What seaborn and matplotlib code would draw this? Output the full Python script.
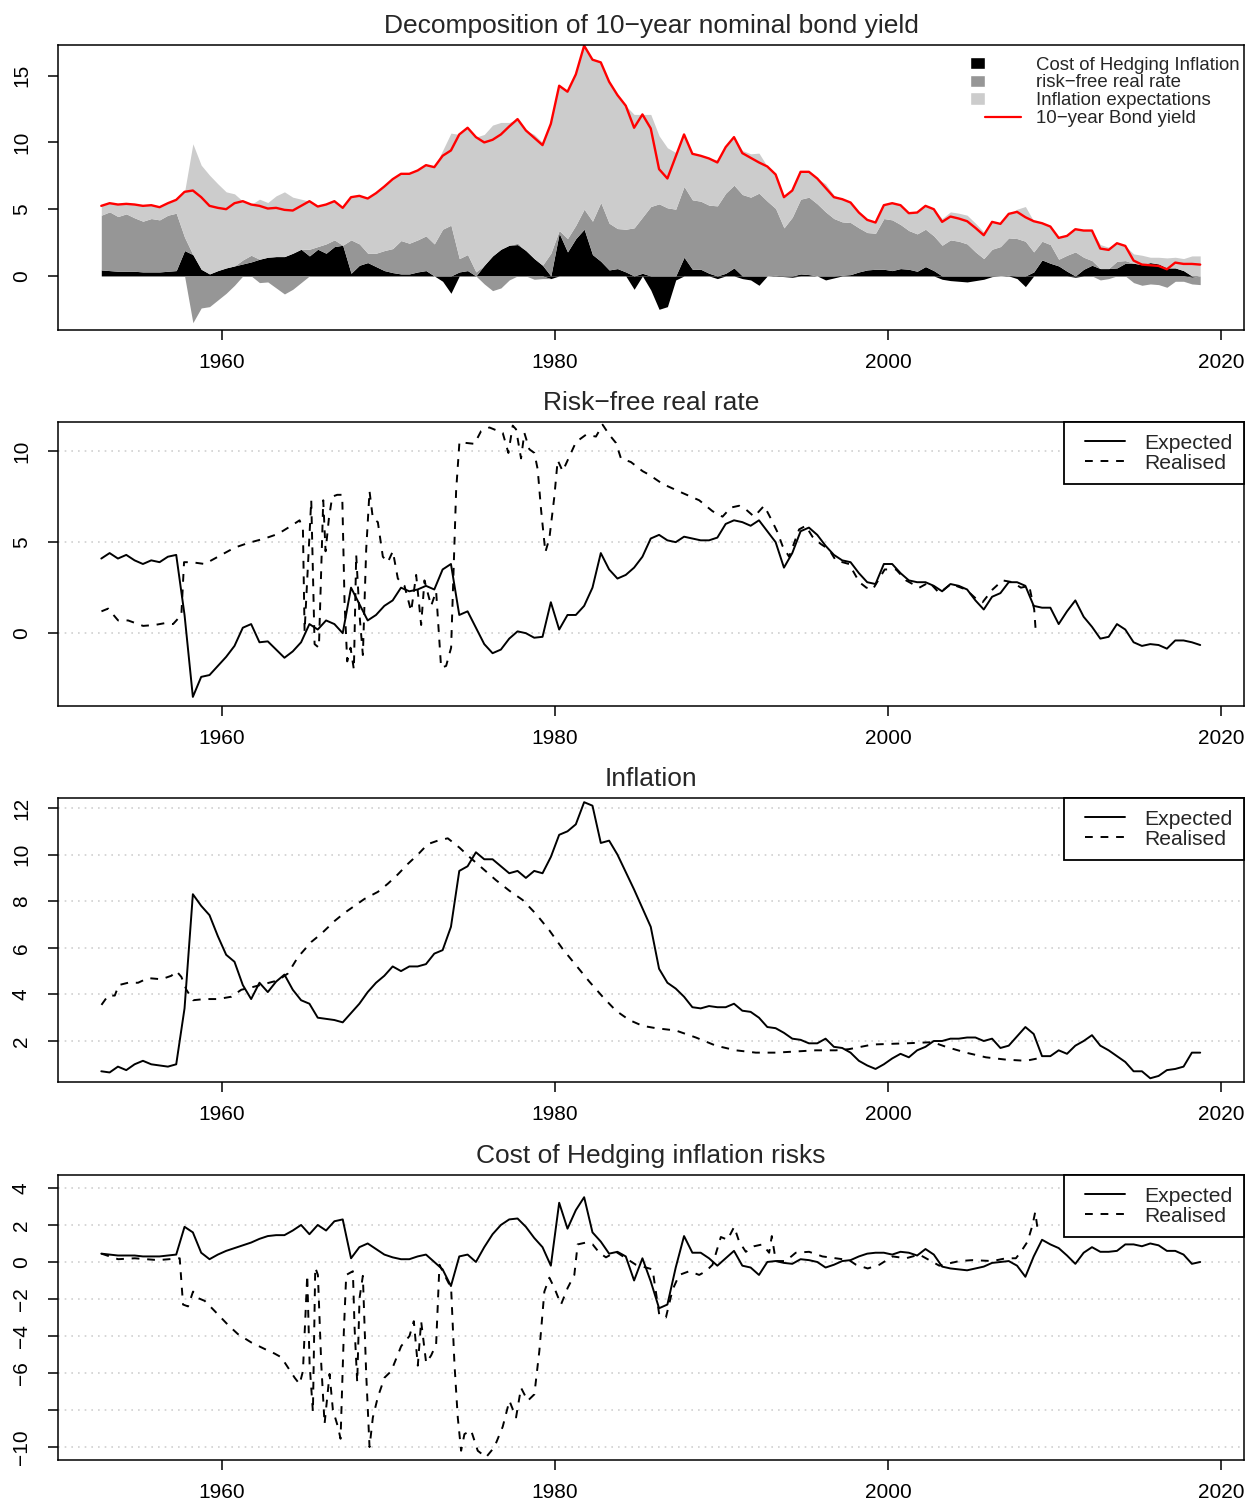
import numpy as np
import pandas as pd
import matplotlib
matplotlib.use("Agg")
import matplotlib.pyplot as plt
import seaborn as sns
from matplotlib.patches import Patch, Rectangle
from matplotlib.lines import Line2D
from matplotlib.legend_handler import HandlerPatch, HandlerLine2D

sns.set_theme(style="white")
plt.rcParams['font.family'] = ['Liberation Sans', 'DejaVu Sans']
plt.rcParams['lines.dashed_pattern'] = [4, 4]

# ---- expected components, half-yearly from 1952.75 to 2018.75 ----
years = np.arange(1952.75, 2019.0, 0.5)

real_exp = [4.1, 4.4, 4.1, 4.3, 4.0, 3.8, 4.0, 3.9, 4.2, 4.3,
            1.0, -3.5, -2.4, -2.3, -1.8, -1.3, -0.7, 0.3, 0.5, -0.5,
            -0.45, -0.9, -1.35, -1.0, -0.5, 0.5, 0.2, 0.7, 0.5, 0.0,
            2.5, 1.6, 0.7, 1.0, 1.5, 1.8, 2.5, 2.3, 2.4, 2.6,
            2.4, 3.5, 3.8, 1.0, 1.2, 0.3, -0.6, -1.1, -0.9, -0.3,
            0.1, 0.0, -0.25, -0.2, 1.7, 0.2, 1.0, 1.0, 1.5, 2.5,
            4.4, 3.5, 3.0, 3.2, 3.6, 4.2, 5.2, 5.4, 5.1, 5.0,
            5.3, 5.2, 5.1, 5.1, 5.25, 6.0, 6.2, 6.1, 5.9, 6.2,
            5.6, 5.0, 3.6, 4.4, 5.6, 5.8, 5.4, 4.8, 4.3, 4.0,
            3.9, 3.3, 2.8, 2.7, 3.8, 3.8, 3.3, 2.9, 2.8, 2.8,
            2.6, 2.3, 2.7, 2.6, 2.4, 1.8, 1.3, 2.0, 2.2, 2.8,
            2.8, 2.6, 1.5, 1.4, 1.4, 0.5, 1.2, 1.8, 0.9, 0.35,
            -0.3, -0.2, 0.5, 0.2, -0.5, -0.7, -0.6, -0.65, -0.85, -0.4,
            -0.4, -0.5, -0.65]

infl_exp = [0.7, 0.65, 0.9, 0.75, 1.0, 1.15, 1.0, 0.95, 0.9, 1.0,
            3.4, 8.3, 7.8, 7.4, 6.5, 5.7, 5.4, 4.4, 3.8, 4.5,
            4.1, 4.55, 4.85, 4.2, 3.75, 3.6, 3.0, 2.95, 2.9, 2.8,
            3.2, 3.6, 4.1, 4.5, 4.8, 5.2, 5.0, 5.2, 5.2, 5.3,
            5.75, 5.9, 6.9, 9.3, 9.5, 10.1, 9.8, 9.8, 9.5, 9.2,
            9.3, 9.0, 9.3, 9.2, 9.9, 10.85, 11.0, 11.3, 12.25, 12.1,
            10.5, 10.6, 10.0, 9.25, 8.5, 7.7, 6.9, 5.1, 4.5, 4.25,
            3.9, 3.45, 3.4, 3.5, 3.45, 3.45, 3.6, 3.3, 3.25, 3.0,
            2.6, 2.55, 2.35, 2.1, 2.05, 1.9, 1.9, 2.1, 1.75, 1.7,
            1.5, 1.15, 0.95, 0.8, 1.0, 1.25, 1.45, 1.3, 1.6, 1.75,
            2.0, 2.0, 2.1, 2.1, 2.15, 2.15, 2.0, 2.1, 1.7, 1.8,
            2.2, 2.6, 2.3, 1.35, 1.35, 1.6, 1.45, 1.8, 2.0, 2.25,
            1.8, 1.6, 1.35, 1.1, 0.7, 0.7, 0.4, 0.5, 0.75, 0.8,
            0.9, 1.5, 1.5]

hedge_exp = [0.45, 0.4, 0.35, 0.35, 0.35, 0.3, 0.3, 0.3, 0.35, 0.4,
             1.9, 1.6, 0.5, 0.15, 0.4, 0.6, 0.75, 0.9, 1.05, 1.25,
             1.4, 1.45, 1.45, 1.7, 2.0, 1.5, 2.0, 1.7, 2.2, 2.3,
             0.2, 0.8, 1.0, 0.7, 0.4, 0.25, 0.15, 0.15, 0.3, 0.4,
             0.0, -0.4, -1.3, 0.3, 0.4, 0.0, 0.8, 1.5, 2.0, 2.3,
             2.35, 1.9, 1.3, 0.8, -0.2, 3.2, 1.8, 2.8, 3.5, 1.6,
             1.1, 0.45, 0.55, 0.3, -1.0, 0.2, -1.05, -2.5, -2.3, -0.3,
             1.4, 0.5, 0.5, 0.2, -0.2, 0.2, 0.6, -0.2, -0.3, -0.7,
             0.0, 0.05, -0.05, -0.1, 0.15, 0.1, 0.0, -0.3, -0.15, 0.05,
             0.1, 0.3, 0.45, 0.5, 0.5, 0.4, 0.55, 0.5, 0.35, 0.7,
             0.4, -0.25, -0.35, -0.4, -0.45, -0.35, -0.25, -0.05, 0.0, 0.05,
             -0.2, -0.8, 0.3, 1.2, 0.95, 0.75, 0.35, -0.1, 0.5, 0.8,
             0.55, 0.55, 0.6, 0.95, 0.95, 0.85, 1.0, 0.9, 0.6, 0.6,
             0.4, -0.1, 0.0]

# ---- realised series (read at irregular dates) ----
real_rl_yr = [1952.76, 1953.16, 1953.76, 1954.36, 1955.26, 1955.96, 1956.56, 1957.06, 1957.56, 1957.72,
              1958.16, 1958.96, 1959.96, 1960.76, 1961.56, 1962.56, 1963.36, 1964.16, 1964.66, 1964.86,
              1964.96, 1965.36, 1965.56, 1965.82, 1966.08, 1966.22, 1966.42, 1966.62, 1966.92, 1967.22,
              1967.36, 1967.52, 1967.72, 1967.92, 1968.06, 1968.26, 1968.46, 1968.66, 1968.86, 1969.06,
              1969.36, 1969.66, 1969.96, 1970.26, 1970.56, 1970.96, 1971.36, 1971.66, 1971.96, 1972.16,
              1972.56, 1972.86, 1973.16, 1973.46, 1973.76, 1974.06, 1974.26, 1974.66, 1975.16, 1975.56,
              1976.06, 1976.86, 1977.2, 1977.46, 1977.66, 1977.96, 1978.16, 1978.46, 1978.76, 1978.96,
              1979.16, 1979.42, 1979.66, 1979.96, 1980.16, 1980.46, 1980.86, 1981.26, 1981.86, 1982.46,
              1982.86, 1983.26, 1983.66, 1983.96, 1984.56, 1985.26, 1985.66, 1986.46, 1987.66, 1988.66,
              1989.46, 1990.06, 1990.56, 1991.06, 1991.46, 1991.96, 1992.56, 1992.96, 1993.36, 1993.66,
              1994.06, 1994.66, 1995.06, 1995.46, 1995.96, 1996.46, 1996.86, 1997.66, 1998.28, 1998.7,
              1999.08, 1999.8, 2000.48, 2001.08, 2001.88, 2002.48, 2003.08, 2003.78, 2004.68, 2005.28,
              2005.68, 2006.28, 2006.88, 2007.48, 2007.98, 2008.48, 2008.78, 2008.88]
real_rl = [1.2, 1.35, 0.7, 0.7, 0.4, 0.45, 0.55, 0.5, 1.0, 3.9,
           3.9, 3.8, 4.3, 4.7, 4.95, 5.2, 5.45, 5.9, 6.2, 5.7,
           0.1, 7.3, -0.6, -0.8, 7.3, 4.5, 6.3, 7.5, 7.6, 7.6,
           1.7, -1.55, -0.8, -2.0, 4.3, 1.0, -1.2, 4.6, 7.8, 6.3,
           6.1, 4.2, 3.9, 4.5, 3.0, 2.6, 1.2, 3.2, 0.45, 2.9,
           1.5, 2.3, -1.9, -1.8, -0.8, 7.8, 10.5, 10.45, 10.4, 11.1,
           11.3, 11.0, 9.9, 11.4, 11.2, 9.6, 11.0, 10.1, 9.9, 9.0,
           6.8, 4.45, 5.2, 7.5, 9.5, 8.9, 9.7, 10.5, 10.9, 10.8,
           11.45, 10.9, 10.45, 9.6, 9.4, 8.9, 8.7, 8.2, 7.7, 7.3,
           6.7, 6.4, 6.9, 7.0, 6.8, 6.4, 7.0, 6.3, 5.55, 4.8,
           4.2, 5.7, 5.9, 5.3, 4.9, 4.6, 4.0, 3.8, 2.8, 2.5,
           2.4, 3.5, 3.5, 2.9, 2.5, 2.8, 2.2, 2.7, 2.4, 1.9,
           1.7, 2.4, 2.9, 2.8, 2.5, 2.6, 1.3, 0.0]

infl_rl_yr = [1952.76, 1953.16, 1953.56, 1953.8, 1954.36, 1954.96, 1955.56, 1956.36, 1956.96, 1957.26,
              1957.56, 1957.86, 1958.26, 1958.96, 1959.76, 1960.56, 1961.16, 1961.76, 1962.56, 1963.36,
              1963.96, 1964.56, 1965.36, 1965.96, 1966.76, 1967.36, 1967.96, 1968.56, 1969.36, 1969.96,
              1970.56, 1971.16, 1971.76, 1972.36, 1972.96, 1973.56, 1974.26, 1974.86, 1975.66, 1976.46,
              1977.26, 1978.06, 1978.86, 1979.66, 1980.46, 1981.26, 1982.06, 1982.86, 1983.66, 1984.46,
              1985.26, 1986.06, 1987.26, 1988.46, 1989.66, 1990.86, 1992.06, 1993.26, 1994.46, 1995.66,
              1996.86, 1997.66, 1999.08, 2001.08, 2002.68, 2003.48, 2004.68, 2005.88, 2007.08, 2008.28,
              2008.98]
infl_rl = [3.55, 3.95, 3.95, 4.4, 4.5, 4.5, 4.7, 4.65, 4.8, 5.0,
           4.75, 4.2, 3.75, 3.8, 3.8, 3.9, 4.2, 4.3, 4.45, 4.6,
           4.9, 5.6, 6.25, 6.6, 7.15, 7.5, 7.8, 8.1, 8.4, 8.75,
           9.15, 9.6, 10.0, 10.45, 10.6, 10.7, 10.3, 9.9, 9.4, 8.9,
           8.45, 8.05, 7.45, 6.75, 5.95, 5.25, 4.55, 3.9, 3.3, 2.9,
           2.65, 2.55, 2.45, 2.15, 1.8, 1.6, 1.5, 1.5, 1.55, 1.6,
           1.6, 1.65, 1.85, 1.9, 1.95, 1.75, 1.5, 1.3, 1.2, 1.15,
           1.25]

hedge_rl_yr = [1952.76, 1953.76, 1954.76, 1956.16, 1957.46, 1957.66, 1957.96, 1958.26, 1958.56, 1958.96,
               1959.56, 1960.36, 1960.96, 1961.76, 1962.56, 1963.16, 1963.56, 1963.96, 1964.36, 1964.66,
               1964.86, 1965.12, 1965.26, 1965.46, 1965.6, 1965.76, 1965.96, 1966.16, 1966.46, 1966.66,
               1966.96, 1967.12, 1967.32, 1967.46, 1967.86, 1967.96, 1968.12, 1968.26, 1968.46, 1968.66,
               1968.86, 1969.06, 1969.36, 1969.76, 1970.16, 1970.76, 1971.26, 1971.52, 1971.76, 1971.96,
               1972.26, 1972.56, 1972.86, 1973.06, 1973.36, 1973.76, 1973.96, 1974.16, 1974.36, 1974.56,
               1974.96, 1975.36, 1975.86, 1976.36, 1976.86, 1977.26, 1977.66, 1977.96, 1978.36, 1978.76,
               1979.06, 1979.36, 1979.66, 1979.96, 1980.36, 1980.76, 1981.16, 1981.36, 1981.86, 1982.26,
               1982.66, 1983.06, 1983.66, 1984.26, 1984.86, 1985.46, 1985.86, 1986.26, 1986.66, 1987.06,
               1987.46, 1988.06, 1988.66, 1989.06, 1989.46, 1989.96, 1990.36, 1990.76, 1991.06, 1991.46,
               1991.96, 1992.46, 1992.86, 1993.02, 1993.26, 1993.86, 1994.46, 1995.26, 1996.06, 1996.86,
               1997.66, 1998.08, 1998.78, 1999.48, 2000.28, 2001.08, 2001.88, 2003.08, 2004.28, 2005.08,
               2006.28, 2007.08, 2007.68, 2007.98, 2008.38, 2008.68, 2008.84, 2008.98]
hedge_rl = [0.45, 0.15, 0.2, 0.1, 0.2, -2.3, -2.4, -1.6, -1.95, -2.1,
            -2.65, -3.4, -3.9, -4.35, -4.7, -4.95, -5.15, -5.7, -6.25, -6.6,
            -5.9, -0.7, -5.5, -8.1, -0.3, -0.7, -5.5, -8.75, -6.05, -8.0,
            -8.9, -9.55, -3.7, -0.7, -0.5, -3.5, -6.5, -1.95, -0.75, -6.05,
            -10.0, -8.4, -7.3, -6.25, -5.9, -4.55, -4.0, -3.2, -5.6, -3.2,
            -5.45, -5.05, -4.45, -0.15, -0.7, -1.4, -5.5, -8.4, -10.2, -9.3,
            -9.1, -10.2, -10.55, -10.0, -8.9, -7.5, -8.4, -6.8, -7.5, -7.15,
            -4.8, -1.6, -0.85, -1.4, -2.3, -1.4, -0.7, 0.95, 1.05, 0.95,
            0.5, 0.25, 0.55, 0.2, -0.15, -0.3, -0.4, -2.85, -3.0, -1.5,
            -0.7, -0.5, -0.7, -0.5, -0.15, 1.35, 1.2, 1.9, 1.1, 0.55,
            0.85, 0.95, 0.5, 1.4, 0.05, 0.05, 0.5, 0.55, 0.3, 0.2,
            0.1, -0.15, -0.35, -0.15, 0.3, 0.2, 0.4, -0.2, 0.05, 0.1,
            0.05, 0.2, 0.2, 0.55, 1.1, 2.0, 2.7, 1.8]

df = pd.DataFrame({'year': years, 'real': real_exp, 'infl': infl_exp, 'hedge': hedge_exp})
df['yield'] = df['real'] + df['infl'] + df['hedge']

W, H = 1245, 1501
fig = plt.figure(figsize=(W / 100, H / 100), dpi=100)


def make_ax(top, bottom):
    return fig.add_axes([58 / W, 1 - bottom / H, (1244 - 58) / W, (bottom - top) / H])


def style(ax, ylim, yticks, ylabels, title, grid=True):
    ax.set_xlim(1950.15, 2021.38)
    ax.set_ylim(*ylim)
    ax.set_xticks([1960, 1980, 2000, 2020])
    ax.set_yticks(yticks)
    ax.set_yticklabels(ylabels, rotation=90, va='center')
    ax.tick_params(axis='both', direction='out', length=7, width=1.1, colors='black',
                   labelsize=15, bottom=True, left=True, top=False, right=False)
    ax.tick_params(axis='y', pad=12.5)
    ax.tick_params(axis='x', pad=9.5)
    for s in ax.spines.values():
        s.set_color('black')
        s.set_linewidth(1.1)
    ax.set_title(title, fontsize=19, pad=9)
    if grid:
        ax.grid(axis='y', color='#cfcfcf', linestyle=(0, (1, 3)), linewidth=1.2)
        ax.grid(axis='x', visible=False)
        ax.set_axisbelow(True)
    else:
        ax.grid(False)
    ax.set_xlabel('')
    ax.set_ylabel('')


# ---------------- panel 1 ----------------
ax1 = make_ax(45, 330)
ph = df['hedge'].clip(lower=0)
nh = df['hedge'].clip(upper=0)
pr = df['real'].clip(lower=0)
nr = df['real'].clip(upper=0)
dark, light = '#969696', '#cccccc'
ax1.fill_between(df['year'], 0, ph, color='black', lw=0)
ax1.fill_between(df['year'], 0, nh, color='black', lw=0)
ax1.fill_between(df['year'], ph, ph + pr, color=dark, lw=0)
ax1.fill_between(df['year'], nh, nh + nr, color=dark, lw=0)
ax1.fill_between(df['year'], ph + pr, ph + pr + df['infl'], color=light, lw=0)
sns.lineplot(data=df, x='year', y='yield', color='red', lw=1.7, ax=ax1)
style(ax1, (-4.05, 17.3), [0, 5, 10, 15], ['0', '5', '10', '15'],
      'Decomposition of 10\u2212year nominal bond yield', grid=False)


def box_func(legend, orig_handle, xdescent, ydescent, width, height, fontsize):
    return Rectangle((-xdescent, -ydescent), 0.3 * width, height)


h1 = [Patch(facecolor='black'), Patch(facecolor=dark), Patch(facecolor=light),
      Line2D([], [], color='red', lw=1.6)]
l1 = ['Cost of Hedging Inflation', 'risk\u2212free real rate', 'Inflation expectations',
      '10\u2212year Bond yield']
ax1.legend(h1, l1, loc='upper right', bbox_to_anchor=(1.003, 0.985), borderaxespad=0,
           frameon=False, fontsize=13.4, handlelength=2.7, handleheight=0.65,
           handletextpad=0.85, labelspacing=0.04,
           handler_map={Patch: HandlerPatch(patch_func=box_func),
                        Line2D: HandlerLine2D(xpad=0.81)})


def exp_real_legend(ax):
    hs = [Line2D([], [], color='black', lw=1.4), Line2D([], [], color='black', lw=1.4, ls='--')]
    leg = ax.legend(hs, ['Expected', 'Realised'], loc='upper right', bbox_to_anchor=(1, 1),
                    borderaxespad=0, fontsize=15.2, handlelength=2.35, handletextpad=0.9,
                    labelspacing=0.05, borderpad=0.55, fancybox=False, framealpha=1,
                    edgecolor='black', handler_map={Line2D: HandlerLine2D(xpad=0.43)})
    leg.get_frame().set_linewidth(1.3)


# ---------------- panel 2 ----------------
ax2 = make_ax(422, 706)
sns.lineplot(x=years, y=real_exp, color='black', lw=1.4, ax=ax2)
sns.lineplot(x=real_rl_yr, y=real_rl, color='black', lw=1.4, linestyle='--', ax=ax2)
style(ax2, (-4.0, 11.6), [0, 5, 10], ['0', '5', '10'], 'Risk\u2212free real rate')
exp_real_legend(ax2)

# ---------------- panel 3 ----------------
ax3 = make_ax(798, 1082)
sns.lineplot(x=years, y=infl_exp, color='black', lw=1.4, ax=ax3)
sns.lineplot(x=infl_rl_yr, y=infl_rl, color='black', lw=1.4, linestyle='--', ax=ax3)
style(ax3, (0.24, 12.43), [2, 4, 6, 8, 10, 12], ['2', '4', '6', '8', '10', '12'], 'Inflation')
exp_real_legend(ax3)

# ---------------- panel 4 ----------------
ax4 = make_ax(1175, 1460)
sns.lineplot(x=years, y=hedge_exp, color='black', lw=1.4, ax=ax4)
sns.lineplot(x=hedge_rl_yr, y=hedge_rl, color='black', lw=1.4, linestyle='--', ax=ax4)
style(ax4, (-10.7, 4.7), [-10, -8, -6, -4, -2, 0, 2, 4],
      ['\u221210', '', '\u22126', '\u22124', '\u22122', '0', '2', '4'],
      'Cost of Hedging inflation risks')
exp_real_legend(ax4)

fig.savefig('out.png', dpi=100)
